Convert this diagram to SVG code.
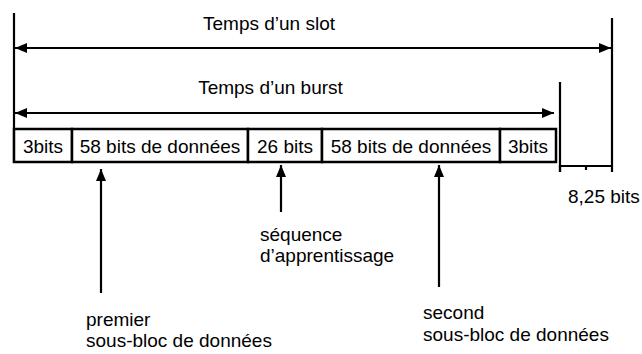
<svg xmlns="http://www.w3.org/2000/svg" width="642" height="354" viewBox="0 0 642 354">
<defs>
<marker id="ah" viewBox="0 0 12 10" refX="12" refY="5" markerWidth="12" markerHeight="10" markerUnits="userSpaceOnUse" orient="auto-start-reverse"><path d="M0,0 L12,5 L0,10 z" fill="#000"/></marker>
<style>
.t{font-family:"Liberation Sans",Arial,sans-serif;font-size:19px;fill:#000}
.ln{stroke:#000;stroke-width:2.2;fill:none}
.bx{stroke:#000;stroke-width:2.5;fill:#fff}
</style>
</defs>
<g id="bounds">
<line class="ln" x1="14" y1="13" x2="14" y2="163"/>
<line class="ln" x1="612" y1="18" x2="612" y2="172"/>
<line class="ln" x1="560" y1="82" x2="560" y2="172"/>
<path class="ln" d="M560,172 L560,166 L586,166 L586,170 M586,166 L612,166"/>
</g>
<g id="connectors">
<line class="ln" x1="15" y1="48" x2="611" y2="48" marker-start="url(#ah)" marker-end="url(#ah)"/>
<line class="ln" x1="15" y1="113" x2="554" y2="113" marker-start="url(#ah)" marker-end="url(#ah)"/>
<line class="ln" x1="101" y1="293" x2="101" y2="169" marker-end="url(#ah)"/>
<line class="ln" x1="281" y1="212" x2="281" y2="165" marker-end="url(#ah)"/>
<line class="ln" x1="439" y1="287" x2="439" y2="165" marker-end="url(#ah)"/>
</g>
<g id="labels">
<text class="t" x="269" y="30" text-anchor="middle">Temps d’un slot</text>
<text class="t" x="270.5" y="94" text-anchor="middle">Temps d’un burst</text>
<text class="t" x="568" y="203">8,25 bits</text>
<text class="t" x="260" y="241">séquence</text>
<text class="t" x="260" y="262">d’apprentissage</text>
<text class="t" x="86" y="326">premier</text>
<text class="t" x="86" y="347">sous-bloc de données</text>
<text class="t" x="423" y="319">second</text>
<text class="t" x="423" y="341">sous-bloc de données</text>
</g>
<g id="box1"><rect class="bx" x="14" y="129" width="58" height="33"/><text class="t" x="43" y="153" text-anchor="middle">3bits</text></g>
<g id="box2"><rect class="bx" x="72" y="129" width="176" height="33"/><text class="t" x="160" y="153" text-anchor="middle">58 bits de données</text></g>
<g id="box3"><rect class="bx" x="248" y="129" width="74" height="33"/><text class="t" x="285" y="153" text-anchor="middle">26 bits</text></g>
<g id="box4"><rect class="bx" x="322" y="129" width="178" height="33"/><text class="t" x="411" y="153" text-anchor="middle">58 bits de données</text></g>
<g id="box5"><rect class="bx" x="500" y="129" width="56" height="33"/><text class="t" x="528" y="153" text-anchor="middle">3bits</text></g>
</svg>
